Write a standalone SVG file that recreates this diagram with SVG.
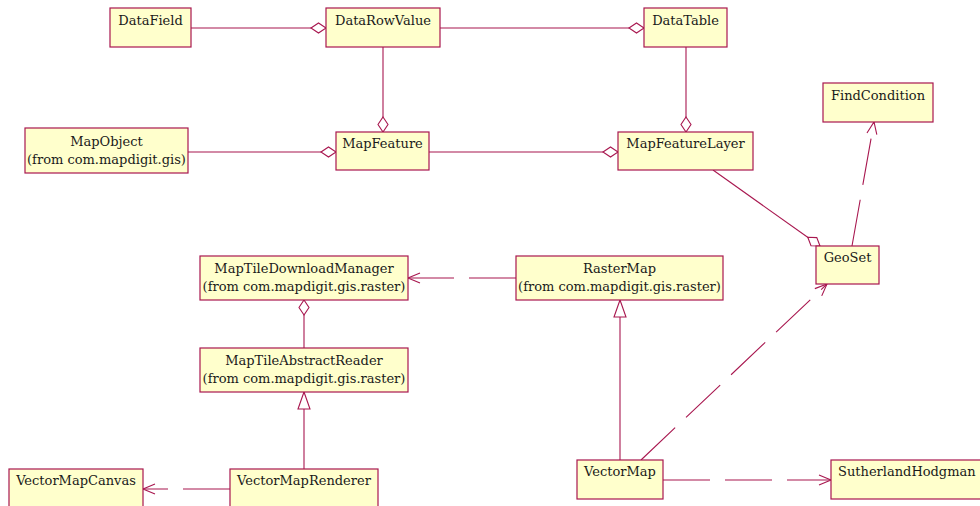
<svg xmlns="http://www.w3.org/2000/svg" width="980" height="506" viewBox="0 0 980 506">
<style>
.box{fill:#ffffcc;stroke:#a8174f;stroke-width:1.2}
.t{font-family:"DejaVu Serif","Liberation Serif",serif;font-size:13px;fill:#1a1a1a;text-anchor:middle}
.c{fill:none;stroke:#a8174f;stroke-width:1.1}
.d{stroke-dasharray:47 15}
</style>
<defs>
<marker id="dia" markerUnits="userSpaceOnUse" markerWidth="17" markerHeight="12" refX="15.5" refY="6" orient="auto" overflow="visible">
<path d="M0.5,6 L8,1 L15.5,6 L8,11 Z" fill="#ffffff" stroke="#a8174f" stroke-width="1.1" stroke-dasharray="none"/>
</marker>
<marker id="arr" markerUnits="userSpaceOnUse" markerWidth="14" markerHeight="12" refX="12" refY="6" orient="auto" overflow="visible">
<path d="M0,1 L12,6 L0,11" fill="none" stroke="#a8174f" stroke-width="1.1" stroke-dasharray="none"/>
</marker>
<marker id="tri" markerUnits="userSpaceOnUse" markerWidth="18" markerHeight="14" refX="17" refY="7" orient="auto" overflow="visible">
<path d="M0,1 L17,7 L0,13 Z" fill="#ffffff" stroke="#a8174f" stroke-width="1.1" stroke-dasharray="none"/>
</marker>
</defs>
<g id="connectors">
<path class="c" d="M191,28 L326,28" marker-end="url(#dia)"/>
<path class="c" d="M440,28 L644,28" marker-end="url(#dia)"/>
<path class="c" d="M383,47 L383,132" marker-end="url(#dia)"/>
<path class="c" d="M686,47 L686,132" marker-end="url(#dia)"/>
<path class="c" d="M188,152 L336,152" marker-end="url(#dia)"/>
<path class="c" d="M429,152 L618,152" marker-end="url(#dia)"/>
<path class="c" d="M713,170 L820,246" marker-end="url(#dia)"/>
<path class="c d" d="M852,246 L874,122" marker-end="url(#arr)"/>
<path class="c d" d="M516,278 L408,278" marker-end="url(#arr)"/>
<path class="c" d="M304,348 L304,300" marker-end="url(#dia)"/>
<path class="c" d="M304,469 L304,392" marker-end="url(#tri)"/>
<path class="c d" d="M230,489 L143,489" marker-end="url(#arr)"/>
<path class="c" d="M620,460 L620,300" marker-end="url(#tri)"/>
<path class="c d" d="M641,460 L827,284" marker-end="url(#arr)"/>
<path class="c d" d="M663,480 L831,480" marker-end="url(#arr)"/>
</g>
<g id="DataField"><rect class="box" x="110" y="8" width="81" height="39"/><text class="t" x="150.5" y="25">DataField</text></g>
<g id="DataRowValue"><rect class="box" x="326" y="8" width="114" height="39"/><text class="t" x="383" y="25">DataRowValue</text></g>
<g id="DataTable"><rect class="box" x="644" y="8" width="83" height="39"/><text class="t" x="685.5" y="25">DataTable</text></g>
<g id="FindCondition"><rect class="box" x="823" y="83" width="110" height="39"/><text class="t" x="878" y="100">FindCondition</text></g>
<g id="MapObject"><rect class="box" x="25" y="128" width="163" height="45"/><text class="t" x="106.5" y="146">MapObject</text><text class="t" x="106.5" y="164">(from com.mapdigit.gis)</text></g>
<g id="MapFeature"><rect class="box" x="336" y="132" width="93" height="38"/><text class="t" x="382.5" y="148">MapFeature</text></g>
<g id="MapFeatureLayer"><rect class="box" x="618" y="132" width="135" height="38"/><text class="t" x="685.5" y="148">MapFeatureLayer</text></g>
<g id="GeoSet"><rect class="box" x="816" y="246" width="63" height="38"/><text class="t" x="847.5" y="262">GeoSet</text></g>
<g id="MapTileDownloadManager"><rect class="box" x="200" y="256" width="208" height="44"/><text class="t" x="304" y="273">MapTileDownloadManager</text><text class="t" x="304" y="291">(from com.mapdigit.gis.raster)</text></g>
<g id="RasterMap"><rect class="box" x="516" y="256" width="207" height="44"/><text class="t" x="619.5" y="273">RasterMap</text><text class="t" x="619.5" y="291">(from com.mapdigit.gis.raster)</text></g>
<g id="MapTileAbstractReader"><rect class="box" x="200" y="348" width="208" height="44"/><text class="t" x="304" y="365">MapTileAbstractReader</text><text class="t" x="304" y="383">(from com.mapdigit.gis.raster)</text></g>
<g id="VectorMapCanvas"><rect class="box" x="9" y="469" width="134" height="40"/><text class="t" x="76" y="485">VectorMapCanvas</text></g>
<g id="VectorMapRenderer"><rect class="box" x="230" y="469" width="148" height="40"/><text class="t" x="304" y="485">VectorMapRenderer</text></g>
<g id="VectorMap"><rect class="box" x="577" y="460" width="86" height="39"/><text class="t" x="620" y="476">VectorMap</text></g>
<g id="SutherlandHodgman"><rect class="box" x="831" y="460" width="160" height="39"/><text class="t" x="838" y="476" style="text-anchor:start">SutherlandHodgman</text></g>
</svg>
